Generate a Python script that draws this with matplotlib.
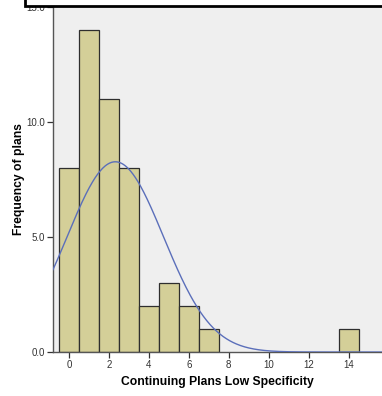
import numpy as np
import matplotlib
matplotlib.use('Agg')
import matplotlib.pyplot as plt
from matplotlib.patches import Rectangle

# Data: count of plans per value of "Continuing Plans Low Specificity"
values = [0, 1, 2, 3, 4, 5, 6, 7, 14]
counts = [8, 14, 11, 8, 2, 3, 2, 1, 1]
x_ticks = [0, 2, 4, 6, 8, 10, 12, 14]
y_ticks = [0, 5, 10, 15]

plt.rcParams['font.family'] = ['Liberation Sans', 'DejaVu Sans']

fig = plt.figure(figsize=(3.82, 3.96), dpi=100)
ax = fig.add_axes([0.1387, 0.111, 0.8613, 0.8712])
ax.set_facecolor('#EFEFEF')

ax.bar(values, counts, width=1.0, color='#D4CF98', edgecolor='#2E2E2E',
       linewidth=0.9, zorder=2)

# fitted normal curve (mean / sd from the counts)
vals = np.array(values, dtype=float)
cnt = np.array(counts, dtype=float)
n = cnt.sum()
mean = (vals * cnt).sum() / n
sd = np.sqrt(((vals - mean) ** 2 * cnt).sum() / (n - 1))
xs = np.linspace(-0.8, 15.7, 400)
ys = n / (sd * np.sqrt(2 * np.pi)) * np.exp(-(xs - mean) ** 2 / (2 * sd ** 2))
ax.plot(xs, ys, color='#5B6FBA', linewidth=1.0, zorder=3)

ax.set_xlim(-0.8, 15.67)
ax.set_ylim(0, 15)
ax.set_xticks(x_ticks)
ax.set_yticks(y_ticks)
ax.set_yticklabels([f'{v:.1f}' for v in y_ticks])
ax.tick_params(axis='both', labelsize=7, colors='#333333', length=4,
               width=0.9, pad=2)
for s in ['top', 'right']:
    ax.spines[s].set_visible(False)
for s in ['left', 'bottom']:
    ax.spines[s].set_color('#555555')
    ax.spines[s].set_linewidth(1.0)

ax.set_xlabel('Continuing Plans Low Specificity', fontsize=8.7,
              fontweight='bold', labelpad=4)
ax.set_ylabel('Frequency of plans', fontsize=8.7, fontweight='bold',
              labelpad=1)

# cut-off box at the top of the picture
fig.patches.append(Rectangle((25 / 382, 1 - 6 / 396), 1.0, 0.05,
                             transform=fig.transFigure, facecolor='white',
                             edgecolor='black', linewidth=2, zorder=5))

fig.savefig('out.png', dpi=100)
